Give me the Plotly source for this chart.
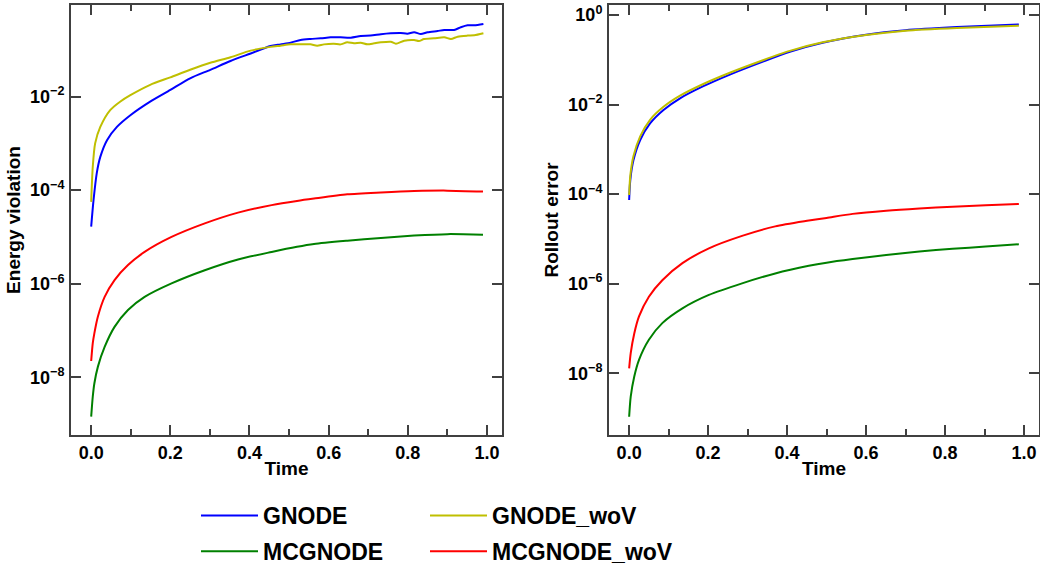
import plotly.graph_objects as go

# ---------------- data ----------------
# Left panel: Energy violation
t_gnode_e = [0.0, 0.006, 0.014, 0.023, 0.040, 0.065, 0.099, 0.149, 0.200, 0.250, 0.301, 0.352, 0.403,
             0.453, 0.478, 0.504, 0.529, 0.554, 0.580, 0.605, 0.630, 0.656, 0.681, 0.706, 0.732, 0.757,
             0.782, 0.799, 0.816, 0.833, 0.850, 0.875, 0.892, 0.917, 0.934, 0.951, 0.968, 0.991]
gnode_energy = [1.66e-5, 6.17e-5, 2.29e-4, 5.13e-4, 1.17e-3, 2.24e-3, 3.98e-3, 7.76e-3, 1.38e-2, 2.45e-2,
                3.72e-2, 5.75e-2, 8.32e-2, 0.120, 0.130, 0.141, 0.162, 0.170, 0.175, 0.184, 0.184, 0.181,
                0.196, 0.200, 0.214, 0.224, 0.228, 0.220, 0.236, 0.216, 0.236, 0.251, 0.264, 0.264, 0.302,
                0.332, 0.332, 0.354]

t_gnode_wov_e = [0.0, 0.004, 0.010, 0.023, 0.048, 0.073, 0.099, 0.149, 0.200, 0.250, 0.301, 0.352, 0.403,
                 0.453, 0.478, 0.504, 0.529, 0.554, 0.571, 0.588, 0.613, 0.630, 0.647, 0.664, 0.681, 0.698,
                 0.715, 0.732, 0.757, 0.770, 0.791, 0.816, 0.828, 0.841, 0.866, 0.892, 0.909, 0.926, 0.951,
                 0.968, 0.991]
gnode_wov_energy = [5.62e-5, 3.16e-4, 1.0e-3, 2.24e-3, 5.13e-3, 7.76e-3, 1.07e-2, 1.78e-2, 2.57e-2, 3.72e-2,
                    5.25e-2, 6.92e-2, 9.55e-2, 0.115, 0.122, 0.130, 0.130, 0.130, 0.122, 0.130, 0.134, 0.130,
                    0.144, 0.137, 0.141, 0.130, 0.137, 0.144, 0.148, 0.134, 0.156, 0.161, 0.153, 0.169, 0.175,
                    0.184, 0.169, 0.190, 0.200, 0.203, 0.224]

t_mc_e = [0.0, 0.004, 0.008, 0.017, 0.034, 0.059, 0.093, 0.135, 0.203, 0.287, 0.371, 0.456, 0.52, 0.563,
          0.647, 0.732, 0.816, 0.90, 0.99]
mcgnode_wov_energy = [2.24e-8, 5.37e-8, 8.71e-8, 2.0e-7, 5.25e-7, 1.20e-6, 2.51e-6, 4.79e-6, 1.0e-5, 1.95e-5,
                      3.31e-5, 4.79e-5, 5.89e-5, 6.61e-5, 8.13e-5, 8.91e-5, 9.55e-5, 9.77e-5, 9.33e-5]
mcgnode_energy = [1.45e-9, 3.89e-9, 7.41e-9, 1.70e-8, 4.47e-8, 1.20e-7, 2.75e-7, 5.25e-7, 1.02e-6, 1.95e-6,
                  3.31e-6, 4.79e-6, 6.17e-6, 7.08e-6, 8.32e-6, 9.55e-6, 1.07e-5, 1.15e-5, 1.12e-5]

# Right panel: Rollout error
t_gnode_r = [0.0, 0.003, 0.011, 0.028, 0.053, 0.087, 0.129, 0.188, 0.255, 0.339, 0.407, 0.49, 0.60, 0.70,
             0.83, 0.987]
gnode_rollout = [7.41e-5, 2.09e-4, 5.75e-4, 1.62e-3, 3.80e-3, 7.59e-3, 1.38e-2, 2.57e-2, 4.68e-2, 9.12e-2,
                 0.151, 0.240, 0.363, 0.457, 0.537, 0.617]
gnode_wov_rollout = [9.55e-5, 2.63e-4, 7.08e-4, 1.95e-3, 4.57e-3, 8.91e-3, 1.58e-2, 2.88e-2, 5.13e-2, 9.77e-2,
                     0.158, 0.245, 0.359, 0.447, 0.513, 0.575]

t_mc_r = [0.0, 0.004, 0.013, 0.025, 0.05, 0.084, 0.135, 0.202, 0.286, 0.37, 0.455, 0.50, 0.566, 0.651,
          0.735, 0.819, 0.903, 0.987]
mcgnode_wov_rollout = [1.29e-8, 2.82e-8, 7.76e-8, 1.86e-7, 5.13e-7, 1.20e-6, 2.88e-6, 6.17e-6, 1.17e-5, 1.91e-5,
                       2.57e-5, 2.95e-5, 3.63e-5, 4.27e-5, 4.79e-5, 5.25e-5, 5.62e-5, 6.03e-5]
mcgnode_rollout = [1.07e-9, 3.02e-9, 8.51e-9, 2.0e-8, 5.62e-8, 1.32e-7, 2.82e-7, 5.62e-7, 1.02e-6, 1.70e-6,
                   2.51e-6, 2.95e-6, 3.55e-6, 4.37e-6, 5.25e-6, 6.03e-6, 6.76e-6, 7.59e-6]

# tick labels
x_tickvals = [0.0, 0.2, 0.4, 0.6, 0.8, 1.0]
x_ticktext = ["0.0", "0.2", "0.4", "0.6", "0.8", "1.0"]
y_tickvals = [1e-8, 1e-6, 1e-4, 1e-2, 1.0]
y_ticktext = ["10<sup>−8</sup>", "10<sup>−6</sup>", "10<sup>−4</sup>", "10<sup>−2</sup>", "10<sup>0</sup>"]

# ---------------- styling ----------------
W, H = 1040, 569
FONT = "Liberation Sans, Arial, sans-serif"
C_BLUE, C_GREEN, C_YEL, C_RED = "#0000FF", "#008000", "#BFBF00", "#FF0000"
AX = "#404040"
LW = 2

fig = go.Figure()

def add(x, y, name, color, xa, ya, legend, show):
    fig.add_trace(go.Scatter(x=x, y=y, mode="lines", name=name,
                             line=dict(color=color, width=LW, shape="spline", smoothing=0.7),
                             xaxis=xa, yaxis=ya, legend=legend, showlegend=show, legendgroup=name))

# left panel
add(t_gnode_e, gnode_energy, "GNODE", C_BLUE, "x", "y", "legend", True)
add(t_mc_e, mcgnode_energy, "MCGNODE", C_GREEN, "x", "y", "legend", True)
add(t_gnode_wov_e, gnode_wov_energy, "GNODE_woV", C_YEL, "x", "y", "legend2", True)
add(t_mc_e, mcgnode_wov_energy, "MCGNODE_woV", C_RED, "x", "y", "legend2", True)
# right panel
add(t_gnode_r, gnode_rollout, "GNODE", C_BLUE, "x2", "y2", "legend", False)
add(t_mc_r, mcgnode_rollout, "MCGNODE", C_GREEN, "x2", "y2", "legend", False)
add(t_gnode_r, gnode_wov_rollout, "GNODE_woV", C_YEL, "x2", "y2", "legend2", False)
add(t_mc_r, mcgnode_wov_rollout, "MCGNODE_woV", C_RED, "x2", "y2", "legend2", False)

tickfont = dict(family=FONT, size=18, color="black", weight="bold")
titlefont = dict(family=FONT, size=19, color="black", weight="bold")

def xaxis(domain, anchor):
    return dict(domain=domain, anchor=anchor, range=[-0.051, 1.038], tickvals=x_tickvals, ticktext=x_ticktext,
                ticks="inside", ticklen=10, tickwidth=2, tickcolor=AX, showline=True, linecolor=AX,
                linewidth=2, mirror="ticks", showgrid=False, zeroline=False, tickfont=tickfont,
                title=dict(text="Time", font=titlefont, standoff=0),
                minor=dict(dtick=0.1, tick0=0, ticks="inside", ticklen=6, tickwidth=2, tickcolor=AX,
                           showgrid=False))

def yaxis(domain, anchor, rng, title):
    return dict(domain=domain, anchor=anchor, type="log", range=rng, tickvals=y_tickvals, ticktext=y_ticktext,
                ticks="inside", ticklen=10, tickwidth=2, tickcolor=AX, showline=True, linecolor=AX,
                linewidth=2, mirror="ticks", showgrid=False, zeroline=False, tickfont=tickfont,
                ticklabelstandoff=1, title=dict(text=title, font=titlefont, standoff=4))

yd = [1 - 435 / H, 1 - 5 / H]
legfont = dict(family=FONT, size=23, color="black", weight="bold")
fig.update_layout(
    width=W, height=H, margin=dict(l=0, r=0, t=0, b=0, autoexpand=False),
    paper_bgcolor="white", plot_bgcolor="white",
    xaxis=xaxis([71 / W, 502 / W], "y"),
    yaxis=yaxis(yd, "x", [-9.23, -0.045], "Energy violation"),
    xaxis2=xaxis([609 / W, 1039 / W], "y2"),
    yaxis2=yaxis(yd, "x2", [-9.377, 0.223], "Rollout error"),
    legend=dict(x=196 / W, y=1 - 494 / H, xanchor="left", yanchor="top", orientation="v",
                font=legfont, itemwidth=57, bgcolor="rgba(0,0,0,0)", tracegroupgap=3),
    legend2=dict(x=425 / W, y=1 - 494 / H, xanchor="left", yanchor="top", orientation="v",
                 font=legfont, itemwidth=57, bgcolor="rgba(0,0,0,0)", tracegroupgap=3),
)

fig.write_html("out.html")
